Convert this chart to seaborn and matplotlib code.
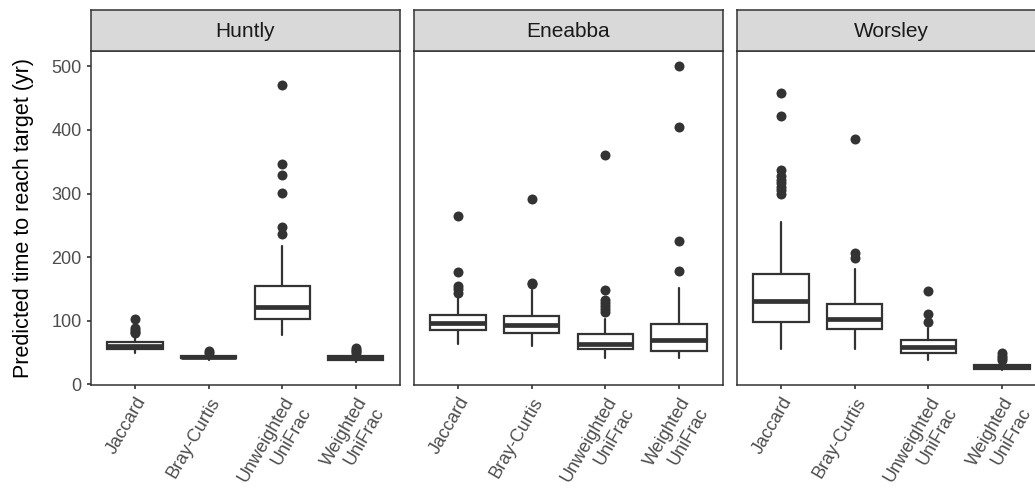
import matplotlib
matplotlib.use("Agg")
import matplotlib.pyplot as plt
import pandas as pd
import seaborn as sns

sites = ["Huntly", "Eneabba", "Worsley"]
metrics = ["Jaccard", "Bray-Curtis", "Unweighted\nUniFrac", "Weighted\nUniFrac"]
yticks = [0, 100, 200, 300, 400, 500]

# box summaries, one value per metric
huntly_lo = [50, 38, 77, 35]
huntly_q1 = [56, 41, 103, 38]
huntly_med = [61, 43, 121, 41]
huntly_q3 = [66, 45, 155, 44]
huntly_hi = [74, 48, 218, 48]
huntly_out = [[80, 83, 86, 88, 102], [50, 52], [236, 248, 301, 329, 347, 470], [50, 52, 54, 57]]

eneabba_lo = [64, 60, 42, 42]
eneabba_q1 = [85, 80, 56, 53]
eneabba_med = [97, 93, 64, 69]
eneabba_q3 = [109, 108, 79, 95]
eneabba_hi = [138, 149, 102, 151]
eneabba_out = [[144, 150, 155, 177, 264], [157, 160, 292],
               [113, 118, 123, 128, 133, 148, 360], [178, 226, 404, 500]]

worsley_lo = [56, 56, 38, 22]
worsley_q1 = [98, 87, 50, 24]
worsley_med = [131, 103, 59, 27]
worsley_q3 = [174, 126, 69, 31]
worsley_hi = [255, 181, 89, 34]
worsley_out = [[300, 305, 311, 316, 321, 328, 337, 422, 458], [199, 206, 385],
               [98, 110, 146], [38, 41, 44, 49]]

site_stats = {
    "Huntly": (huntly_lo, huntly_q1, huntly_med, huntly_q3, huntly_hi, huntly_out),
    "Eneabba": (eneabba_lo, eneabba_q1, eneabba_med, eneabba_q3, eneabba_hi, eneabba_out),
    "Worsley": (worsley_lo, worsley_q1, worsley_med, worsley_q3, worsley_hi, worsley_out),
}

sns.set_theme(style="white")
plt.rcParams["font.family"] = ["Liberation Sans", "DejaVu Sans"]

DARK = "#333333"
W, H = 1035, 501
fig = plt.figure(figsize=(W / 100, H / 100), dpi=100)

lefts = [90.7, 413.8, 736.9]
pw = 309.3
p_top, p_bot, s_top = 51, 385, 10

for i, site in enumerate(sites):
    lo, q1, med, q3, hi, out = site_stats[site]
    ax = fig.add_axes([lefts[i] / W, 1 - p_bot / H, pw / W, (p_bot - p_top) / H])

    # outlier points through seaborn
    rows = [(metrics[j], v) for j in range(4) for v in out[j]]
    df = pd.DataFrame(rows, columns=["metric", "value"])
    sns.stripplot(data=df, x="metric", y="value", order=metrics, jitter=False,
                  color=DARK, size=7.2, linewidth=0, ax=ax, zorder=3)

    stats = [dict(whislo=lo[j], q1=q1[j], med=med[j], q3=q3[j], whishi=hi[j], fliers=[])
             for j in range(4)]
    ax.bxp(stats, positions=range(4), widths=0.75, showcaps=False, showfliers=False,
           patch_artist=True,
           boxprops=dict(facecolor="white", edgecolor=DARK, linewidth=1.6),
           whiskerprops=dict(color=DARK, linewidth=1.6),
           medianprops=dict(color=DARK, linewidth=3.4, solid_capstyle="butt"),
           manage_ticks=False)

    ax.set_xlim(-0.6, 3.6)
    ax.set_ylim(-1, 524)
    ax.set_xticks(range(4))
    ax.set_xticklabels(metrics, rotation=60, ha="right", va="top",
                       rotation_mode="anchor", fontsize=13, color="#4D4D4D",
                       linespacing=1.25)
    ax.set_xlabel("")
    ax.set_ylabel("")
    ax.set_yticks(yticks)
    ax.tick_params(axis="both", length=3.2, width=1.2, color=DARK, pad=3.5,
                   bottom=True, left=(i == 0))
    if i == 0:
        ax.set_yticklabels([str(t) for t in yticks], fontsize=13, color="#4D4D4D")
    else:
        ax.set_yticklabels([])
    for sp in ax.spines.values():
        sp.set_color(DARK)
        sp.set_linewidth(1.1)

    sax = fig.add_axes([lefts[i] / W, 1 - p_top / H, pw / W, (p_top - s_top) / H])
    sax.set_facecolor("#D9D9D9")
    sax.set_xticks([])
    sax.set_yticks([])
    for sp in sax.spines.values():
        sp.set_color(DARK)
        sp.set_linewidth(1.1)
    sax.text(0.5, 0.47, site, ha="center", va="center", fontsize=15,
             color="#1A1A1A", transform=sax.transAxes)

fig.text(24 / W, 1 - (p_top + p_bot) / 2 / H, "Predicted time to reach target (yr)",
         rotation=90, ha="center", va="center", fontsize=15.5, color="black")

fig.savefig("out.png", dpi=100)
